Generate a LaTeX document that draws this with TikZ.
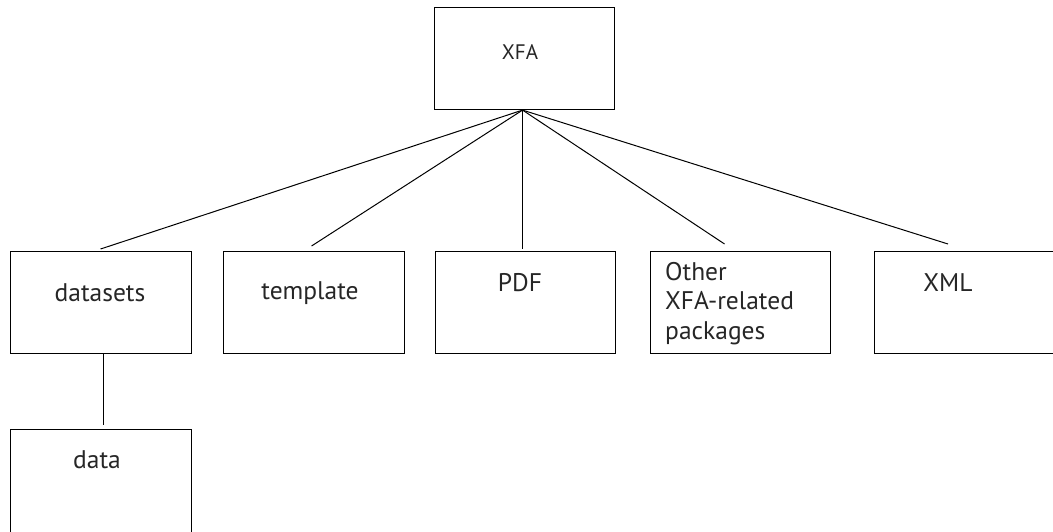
\documentclass[tikz,border=0pt]{standalone}
\usepackage{fontspec}
\setmainfont{PT Sans}
\begin{document}
\begin{tikzpicture}[x=1pt,y=-1pt,
  box/.style={draw, line width=1.1pt, inner sep=0pt, anchor=north west, minimum width=181pt, minimum height=102pt},
  lbl/.style={inner sep=0pt, font=\fontsize{25.5}{29.5}\selectfont, text=black!85},
  conn/.style={line width=1pt}]
\useasboundingbox (0,0) rectangle (1053,531);
\clip (0,0) rectangle (1053,531);
\node[box, minimum width=180pt] (xfa) at (434,7) {};
\node[box] (datasets) at (10,251) {};
\node[box] (template) at (223,251) {};
\node[box, minimum width=180pt] (pdf) at (435,251) {};
\node[box, minimum width=180pt] (other) at (650,251) {};
\node[box, minimum width=200pt] (xml) at (874,251) {};
\node[box, minimum height=104pt] (data) at (10,429) {};
\node[lbl, font=\fontsize{21}{24}\selectfont] (txfa) at (520,52) {XFA};
\node[lbl] (tdatasets) at (100,293) {datasets};
\node[lbl] (ttemplate) at (310,293) {template};
\node[lbl] (tpdf) at (520,283) {PDF};
\node[lbl, anchor=north west, align=left] (tother) at (665,262) {Other\\XFA-related\\packages};
\node[lbl] (txml) at (948,283) {XML};
\node[lbl] (tdata) at (97,460) {data};
\coordinate (apex) at ([xshift=-2pt]xfa.south);
\coordinate (e1) at ([xshift=-0.5pt,yshift=2pt]datasets.north);
\coordinate (e2) at ([xshift=-2.5pt,yshift=5pt]template.north);
\coordinate (e3) at ([xshift=-3pt,yshift=2pt]pdf.north);
\coordinate (e4) at ([xshift=-16pt,yshift=7pt]other.north);
\coordinate (e5) at ([xshift=74pt,yshift=7pt]xml.north west);
\foreach \e in {e1,e2,e3,e4,e5} \draw[conn] (apex) -- (\e);
\draw[conn] ([xshift=2.5pt]datasets.south) -- ([xshift=2.5pt,yshift=4pt]data.north);
\end{tikzpicture}
\end{document}
